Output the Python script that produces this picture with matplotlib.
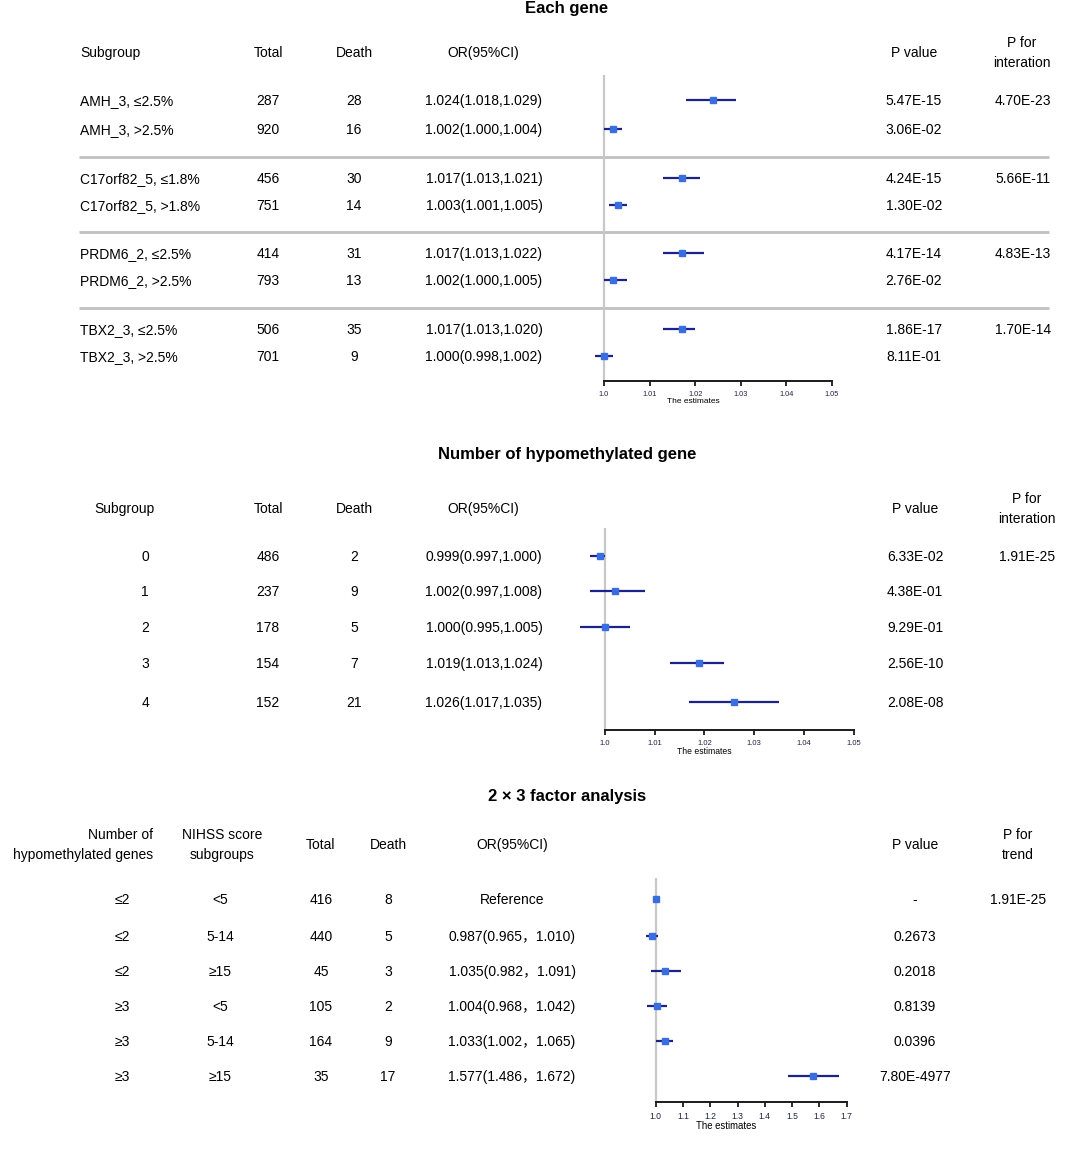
import matplotlib
matplotlib.use("Agg")
import matplotlib.pyplot as plt

plt.rcParams["font.family"] = ["Liberation Sans", "Noto Sans CJK SC", "DejaVu Sans"]

W, H = 1084, 1149

# ── Data: Each gene ─────────────────────────────────────────────
gene_labels = ["AMH_3, ≤2.5%", "AMH_3, >2.5%", "C17orf82_5, ≤1.8%", "C17orf82_5, >1.8%",
               "PRDM6_2, ≤2.5%", "PRDM6_2, >2.5%", "TBX2_3, ≤2.5%", "TBX2_3, >2.5%"]
gene_total = [287, 920, 456, 751, 414, 793, 506, 701]
gene_death = [28, 16, 30, 14, 31, 13, 35, 9]
gene_or = [1.024, 1.002, 1.017, 1.003, 1.017, 1.002, 1.017, 1.000]
gene_lo = [1.018, 1.000, 1.013, 1.001, 1.013, 1.000, 1.013, 0.998]
gene_hi = [1.029, 1.004, 1.021, 1.005, 1.022, 1.005, 1.020, 1.002]
gene_p = ["5.47E-15", "3.06E-02", "4.24E-15", "1.30E-02",
          "4.17E-14", "2.76E-02", "1.86E-17", "8.11E-01"]
gene_pint = ["4.70E-23", "", "5.66E-11", "", "4.83E-13", "", "1.70E-14", ""]

# ── Data: Number of hypomethylated gene ─────────────────────────
num_labels = ["0", "1", "2", "3", "4"]
num_total = [486, 237, 178, 154, 152]
num_death = [2, 9, 5, 7, 21]
num_or = [0.999, 1.002, 1.000, 1.019, 1.026]
num_lo = [0.997, 0.997, 0.995, 1.013, 1.017]
num_hi = [1.000, 1.008, 1.005, 1.024, 1.035]
num_p = ["6.33E-02", "4.38E-01", "9.29E-01", "2.56E-10", "2.08E-08"]
num_pint = ["1.91E-25", "", "", "", ""]

# ── Data: 2 x 3 factor analysis ─────────────────────────────────
fac_genes = ["≤2", "≤2", "≤2", "≥3", "≥3", "≥3"]
fac_nihss = ["<5", "5-14", "≥15", "<5", "5-14", "≥15"]
fac_total = [416, 440, 45, 105, 164, 35]
fac_death = [8, 5, 3, 2, 9, 17]
fac_or = [1.000, 0.987, 1.035, 1.004, 1.033, 1.577]
fac_lo = [1.000, 0.965, 0.982, 0.968, 1.002, 1.486]
fac_hi = [1.000, 1.010, 1.091, 1.042, 1.065, 1.672]
fac_p = ["-", "0.2673", "0.2018", "0.8139", "0.0396", "7.80E-4977"]
fac_ptrend = ["1.91E-25", "", "", "", "", ""]

gene_ticks = [1.0, 1.01, 1.02, 1.03, 1.04, 1.05]
num_ticks = [1.0, 1.01, 1.02, 1.03, 1.04, 1.05]
fac_ticks = [1.0, 1.1, 1.2, 1.3, 1.4, 1.5, 1.6, 1.7]

LINE_C = "#1c2288"
PT_C = "#3a6ee0"
FS = 10

fig = plt.figure(figsize=(W / 100, H / 100), dpi=100)
fig.patch.set_facecolor("white")

# text layer in pixel coordinates
tx = fig.add_axes([0, 0, 1, 1])
tx.set_xlim(0, W)
tx.set_ylim(H, 0)
tx.axis("off")


def txt(x, y, s, ha="center", **kw):
    # small downward nudge so the glyphs sit like the original
    tx.text(x, y + 1, s, ha=ha, va="center", fontsize=kw.pop("fontsize", FS), **kw)


def forest(y_top, y_axis, px_lo, px_hi, ticks, rows_y, est, lo, hi, ms, tick_fmt, tick_fs):
    v_lo, v_hi = ticks[0], ticks[-1]
    scale = (px_hi - px_lo) / (v_hi - v_lo)
    left, right = px_lo - 70, px_hi + 20
    ax = fig.add_axes([left / W, 1 - y_axis / H, (right - left) / W, (y_axis - y_top) / H])
    ax.patch.set_alpha(0)
    ax.set_xlim(v_lo - 70 / scale, v_hi + 20 / scale)
    ax.set_ylim(y_axis, y_top)
    for s in ["top", "right", "left"]:
        ax.spines[s].set_visible(False)
    ax.spines["bottom"].set_bounds(v_lo, v_hi)
    ax.spines["bottom"].set_linewidth(1.4)
    ax.spines["bottom"].set_color("#1a1a1a")
    ax.set_yticks([])
    ax.set_xticks(ticks)
    ax.set_xticklabels([tick_fmt(t) for t in ticks], fontsize=tick_fs, color="#222244")
    ax.tick_params(axis="x", length=3.5, width=1.3, pad=3.5, color="#1a1a1a")
    ax.set_xlabel("The estimates", fontsize=tick_fs + 0.7, labelpad=0)
    ax.axvline(1.0, color="#c8c8c8", lw=1.6, zorder=1)
    ax.hlines(rows_y, lo, hi, color=LINE_C, lw=1.6, zorder=2)
    ax.plot(est, rows_y, "s", color=PT_C, mec=PT_C, ms=ms, zorder=3)
    return ax


def fmt2(t):
    return "1.0" if t == 1.0 else f"{t:.2f}"


# ── Panel 1 ─────────────────────────────────────────────────────
txt(567, 8, "Each gene", fontsize=12, fontweight="bold")
gene_y = [100, 129, 178, 205, 253, 280, 329, 356]
txt(80, 52, "Subgroup", ha="left")
txt(268, 52, "Total")
txt(354, 52, "Death")
txt(483, 52, "OR(95%CI)")
txt(914, 52, "P value")
txt(1022, 52, "P for\ninteration", linespacing=1.5)
for i, y in enumerate(gene_y):
    txt(80, y, gene_labels[i], ha="left")
    txt(268, y, str(gene_total[i]))
    txt(354, y, str(gene_death[i]))
    txt(484, y, f"{gene_or[i]:.3f}({gene_lo[i]:.3f},{gene_hi[i]:.3f})")
    txt(914, y, gene_p[i])
    txt(1023, y, gene_pint[i])
tx.hlines([157, 232, 308], 79, 1049, color="#c0c0c0", lw=2)
forest(75, 381, 604, 832, gene_ticks, gene_y, gene_or, gene_lo, gene_hi, 3.9, fmt2, 5.3)

# ── Panel 2 ─────────────────────────────────────────────────────
txt(567, 453, "Number of hypomethylated gene", fontsize=12, fontweight="bold")
num_y = [556, 591, 627, 663, 702]
txt(124, 508, "Subgroup")
txt(268, 508, "Total")
txt(354, 508, "Death")
txt(483, 508, "OR(95%CI)")
txt(915, 508, "P value")
txt(1027, 508, "P for\ninteration", linespacing=1.5)
for i, y in enumerate(num_y):
    txt(145, y, num_labels[i])
    txt(268, y, str(num_total[i]))
    txt(354, y, str(num_death[i]))
    txt(484, y, f"{num_or[i]:.3f}({num_lo[i]:.3f},{num_hi[i]:.3f})")
    txt(915, y, num_p[i])
    txt(1027, y, num_pint[i])
forest(528, 730, 604.7, 854, num_ticks, num_y, num_or, num_lo, num_hi, 4.6, fmt2, 5.5)

# ── Panel 3 ─────────────────────────────────────────────────────
txt(567, 796, "2 × 3 factor analysis", fontsize=12, fontweight="bold")
fac_y = [899, 936, 971, 1006, 1041, 1076]
txt(153, 844, "Number of\nhypomethylated genes", ha="right", multialignment="right", linespacing=1.5)
txt(222, 844, "NIHSS score\nsubgroups", linespacing=1.5)
txt(321, 844, "Total")
txt(388, 844, "Death")
txt(512, 844, "OR(95%CI)")
txt(915, 844, "P value")
txt(1018, 844, "P for\ntrend", linespacing=1.5)
for i, y in enumerate(fac_y):
    txt(122, y, fac_genes[i])
    txt(220, y, fac_nihss[i])
    txt(321, y, str(fac_total[i]))
    txt(388, y, str(fac_death[i]))
    if fac_p[i] == "-":
        txt(512, y, "Reference")
    else:
        txt(512, y, f"{fac_or[i]:.3f}({fac_lo[i]:.3f}，{fac_hi[i]:.3f})")
    txt(915, y, fac_p[i])
    txt(1018, y, fac_ptrend[i])
forest(878, 1102, 655.7, 846.7, fac_ticks, fac_y, fac_or, fac_lo, fac_hi, 4.0,
       lambda t: f"{t:.1f}", 6.2)

fig.savefig("out.png", dpi=100, facecolor="white")
